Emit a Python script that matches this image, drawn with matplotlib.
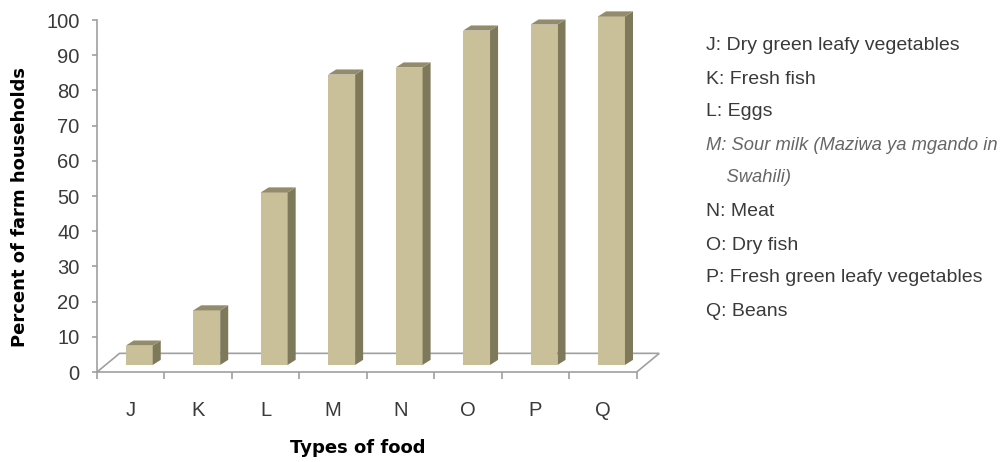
import matplotlib
matplotlib.use("Agg")
import matplotlib.pyplot as plt
from matplotlib.patches import Polygon
import numpy as np

plt.rcParams['font.family'] = ['Liberation Sans', 'DejaVu Sans']

categories = ["J", "K", "L", "M", "N", "O", "P", "Q"]
values = [5.5, 15.5, 49, 82.5, 84.5, 95, 96.7, 99]
legend_lines = [
    "J: Dry green leafy vegetables",
    "K: Fresh fish",
    "L: Eggs",
    "M: Sour milk (Maziwa ya mgando in",
    "    Swahili)",
    "N: Meat",
    "O: Dry fish",
    "P: Fresh green leafy vegetables",
    "Q: Beans",
]
yticks = list(range(0, 101, 10))

FRONT = "#C9C09A"
TOP = "#938C6C"
SIDE = "#7E795B"
LINE = "#A0A0A0"
TXT = "#3A3A3A"

fig = plt.figure(figsize=(10.08, 4.62), dpi=100)
ax = fig.add_axes([97/1008, (462-372)/462, (636.7-97)/1008, 352/462])
n = len(categories)
ax.set_xlim(0, n)
ax.set_ylim(0, 100)

# depth geometry (data units)
fdx, fdy = 0.335, 5.3      # floor depth
bdx, bdy = 0.126, 2.0      # bar front-face offset
wdx, wdy = 0.119, 1.45     # bar depth
bw = 0.40

# floor
floor = Polygon([(0, 0), (n, 0), (n + fdx, fdy), (fdx, fdy)], closed=True,
                facecolor="white", edgecolor=LINE, lw=1.2, clip_on=False, zorder=1)
ax.add_patch(floor)

x = np.arange(n) + 0.5 + bdx
bars = ax.bar(x, values, width=bw, bottom=bdy, color=FRONT, edgecolor="none",
              zorder=3, clip_on=False)
for xi, v in zip(x, values):
    l, r = xi - bw/2, xi + bw/2
    b, t = bdy, bdy + v
    side = Polygon([(r, b), (r + wdx, b + wdy), (r + wdx, t + wdy), (r, t)],
                   closed=True, facecolor=SIDE, edgecolor="none", zorder=3, clip_on=False)
    top = Polygon([(l, t), (r, t), (r + wdx, t + wdy), (l + wdx, t + wdy)],
                  closed=True, facecolor=TOP, edgecolor="none", zorder=3, clip_on=False)
    ax.add_patch(side)
    ax.add_patch(top)

for s in ["top", "right", "bottom"]:
    ax.spines[s].set_visible(False)
ax.spines["left"].set_color(LINE)
ax.spines["left"].set_linewidth(1.2)

ax.set_yticks(yticks)
ax.set_yticklabels([str(t) for t in yticks], fontsize=14.5, color=TXT)
ax.tick_params(axis="y", length=3.6, color=LINE, width=1.2, pad=9)

ax.set_xticks(np.arange(n + 1))
ax.set_xticklabels([])
ax.tick_params(axis="x", length=5, color=LINE, width=1.2)
for i, c in enumerate(categories):
    ax.text(i + 0.5, -10.8, c, ha="center", va="center", fontsize=14.5, color=TXT)

fig.text(20/1008, 1 - 207/462, "Percent of farm households", rotation=90,
         ha="center", va="center", fontsize=13, fontweight="bold",
         color="black", family="DejaVu Sans")
fig.text(358/1008, 1 - 448/462, "Types of food", ha="center", va="center",
         fontsize=13, fontweight="bold", color="black", family="DejaVu Sans")

ys = [46, 79, 112, 145, 178, 212, 245, 278, 312]
for s, yy in zip(legend_lines, ys):
    italic = s.startswith("M:") or "Swahili" in s
    fig.text(706/1008, 1 - yy/462, s, ha="left", va="center",
             fontsize=13.2 if italic else 14,
             color="#666666" if italic else TXT,
             style="italic" if italic else "normal")

fig.savefig("out.png", dpi=100)
